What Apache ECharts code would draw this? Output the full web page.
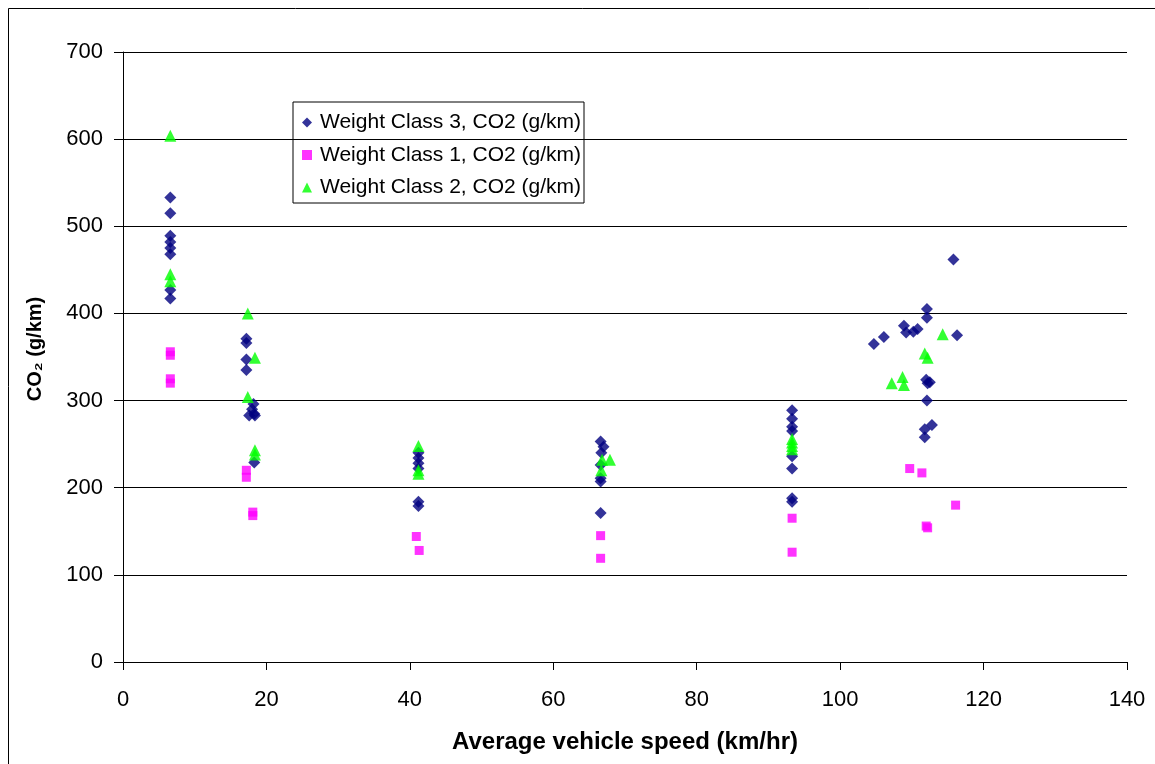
<!DOCTYPE html>
<html><head><meta charset="utf-8">
<script src="https://cdn.jsdelivr.net/npm/echarts@6/dist/echarts.min.js"></script>
<style>html,body{margin:0;padding:0;background:#fff}#c{width:1155px;height:764px}</style>
</head><body><div id="c"></div>
<script>
const seriesNames = ['Weight Class 3, CO2 (g/km)','Weight Class 1, CO2 (g/km)','Weight Class 2, CO2 (g/km)'];
const xTicks = [0,20,40,60,80,100,120,140];
const yTicks = [0,100,200,300,400,500,600,700];
// [speed km/hr, CO2 g/km]
const class3 = [
  [6.6,533],[6.6,515],[6.6,489],[6.6,482],[6.6,475],[6.6,468],[6.6,427],[6.6,417],
  [17.2,371],[17.2,366],[17.2,347],[17.2,335],[18.2,296],[18.0,290],[18.3,285],[17.6,283],[18.4,283],[18.3,229],
  [41.2,240],[41.2,234],[41.2,228],[41.2,222],[41.2,184],[41.2,179],
  [66.6,253],[67.0,247],[66.7,240],[66.6,226],[66.6,211],[66.6,207],[66.6,171],
  [93.3,289],[93.3,279],[93.3,270],[93.3,265],[93.3,236],[93.3,222],[93.3,188],[93.3,184],
  [115.8,462],[112.1,405],[112.1,395],[108.9,386],[109.2,378],[110.2,379],[110.8,382],[106.1,373],[104.7,365],
  [116.3,375],[112.0,324],[112.5,321],[112.2,320],[112.1,300],[112.8,272],[111.8,267],[111.8,258]
];
const class1 = [
  [6.6,356],[6.6,352],[6.6,325],[6.6,320],
  [17.2,220],[17.2,212],[18.1,172],[18.1,168],
  [40.9,144],[41.3,128],
  [66.6,145],[66.6,119],
  [93.3,165],[93.3,126],
  [109.7,222],[111.4,217],[116.1,180],[112.0,156],[112.2,154]
];
const class2 = [
  [6.6,604],[6.6,445],[6.6,437],
  [17.4,400],[18.4,349],[17.4,304],[18.4,243],[18.4,238],
  [41.2,248],[41.2,220],[41.2,216],
  [66.8,232],[67.9,232],[66.7,220],
  [93.3,256],[93.3,252],[93.3,248],[93.3,244],
  [114.3,376],[111.8,354],[112.2,349],[107.2,320],[108.7,327],[108.9,318]
];
const FONT = '"Liberation Sans", Arial, sans-serif';
const chart = echarts.init(document.getElementById('c'), null, {renderer:'canvas'});
chart.setOption({
  animation:false,
  backgroundColor:'#fff',
  graphic:[{type:'rect',shape:{x:8.5,y:8.5,width:1200,height:800},style:{fill:'none',stroke:'#000',lineWidth:1},z:-1}],
  grid:{left:123,right:28,top:52,bottom:102},
  legend:{
    orient:'vertical',left:293,top:102,
    data:[{name:seriesNames[0],icon:'diamond'},{name:seriesNames[1],icon:'rect'},{name:seriesNames[2],icon:'triangle'}],
    itemWidth:10,itemHeight:10,itemGap:11.5,
    padding:[10,3,5,9],
    borderColor:'#000',borderWidth:1,
    textStyle:{fontFamily:FONT,fontSize:21,lineHeight:21,color:'#000',padding:[0,0,0,3]}
  },
  xAxis:{
    type:'value',min:0,max:140,interval:20,
    name:'Average vehicle speed (km/hr)',nameLocation:'middle',nameGap:68,
    nameTextStyle:{fontFamily:FONT,fontSize:24,fontWeight:'bold',color:'#000'},
    axisLine:{show:true,onZero:false,lineStyle:{color:'#000'}},
    axisTick:{show:true,length:8,inside:false,lineStyle:{color:'#000'}},
    axisLabel:{fontFamily:FONT,fontSize:22,color:'#000',margin:27,formatter:v=>xTicks.includes(v)?String(v):''},
    splitLine:{show:false}
  },
  yAxis:{
    type:'value',min:0,max:700,interval:100,
    name:'CO\u2082 (g/km)',nameLocation:'middle',nameGap:78,nameRotate:90,
    nameTextStyle:{fontFamily:FONT,fontSize:20,fontWeight:'bold',color:'#000',padding:[0,0,0,16]},
    axisLine:{show:true,lineStyle:{color:'#000'}},
    axisTick:{show:true,length:9,lineStyle:{color:'#000'}},
    axisLabel:{fontFamily:FONT,fontSize:22,color:'#000',margin:20,formatter:v=>yTicks.includes(v)?String(v):''},
    splitLine:{show:true,lineStyle:{color:'#000',width:1}}
  },
  series:[
    {name:seriesNames[0],type:'scatter',symbol:'diamond',symbolSize:12,itemStyle:{color:'#000080'},data:class3,z:3},
    {name:seriesNames[1],type:'scatter',symbol:'rect',symbolSize:9,itemStyle:{color:'#FF00FF'},data:class1,z:4},
    {name:seriesNames[2],type:'scatter',symbol:'triangle',symbolSize:12,itemStyle:{color:'#00FF00'},data:class2,z:5}
  ]
});
</script></body></html>
